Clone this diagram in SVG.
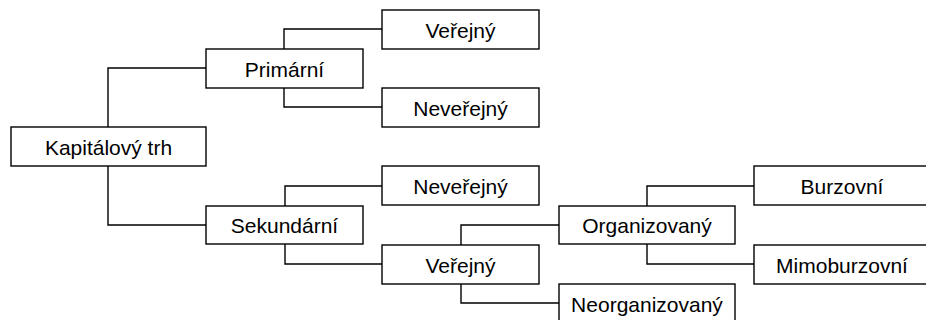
<svg xmlns="http://www.w3.org/2000/svg" width="926" height="320" viewBox="0 0 926 320">
<style>
rect{fill:#fff;stroke:#000;stroke-width:1.4}
text{font-family:"Liberation Sans",Arial,sans-serif;font-size:21px;fill:#000;text-anchor:middle}
#connectors path{fill:none;stroke:#000;stroke-width:1.4}
</style>
<rect x="0" y="0" width="926" height="320" style="stroke:none"/>
<g id="connectors">
<path d="M108,127V68H206"/>
<path d="M108,166V225H206"/>
<path d="M284,49V29H382"/>
<path d="M284,88V107H382"/>
<path d="M285,206V186H382"/>
<path d="M285,244V264H382"/>
<path d="M461,245V225H559"/>
<path d="M461,284V303H559"/>
<path d="M647,206V186H754"/>
<path d="M647,244V264H754"/>
</g>
<g id="kapitalovy"><rect x="11" y="127" width="195" height="39"/><text x="108.5" y="154.5">Kapitálový trh</text></g>
<g id="primarni"><rect x="206" y="49" width="157" height="39"/><text x="284.5" y="76.5">Primární</text></g>
<g id="sekundarni"><rect x="206" y="206" width="157" height="38"/><text x="284.5" y="232.5">Sekundární</text></g>
<g id="verejny1"><rect x="382" y="10" width="157" height="39"/><text x="460.5" y="37.5">Veřejný</text></g>
<g id="neverejny1"><rect x="382" y="88" width="157" height="39"/><text x="460.5" y="115.5">Neveřejný</text></g>
<g id="neverejny2"><rect x="382" y="166" width="157" height="39"/><text x="460.5" y="193.5">Neveřejný</text></g>
<g id="verejny2"><rect x="382" y="245" width="157" height="39"/><text x="460.5" y="272.5">Veřejný</text></g>
<g id="organizovany"><rect x="559" y="206" width="176" height="38"/><text x="647" y="232.5">Organizovaný</text></g>
<g id="neorganizovany"><rect x="559" y="284" width="176" height="40"/><text x="647" y="311.5">Neorganizovaný</text></g>
<g id="burzovni"><rect x="754" y="166" width="176" height="39"/><text x="842" y="193.5">Burzovní</text></g>
<g id="mimoburzovni"><rect x="754" y="245" width="176" height="39"/><text x="842" y="272.5">Mimoburzovní</text></g>
</svg>
